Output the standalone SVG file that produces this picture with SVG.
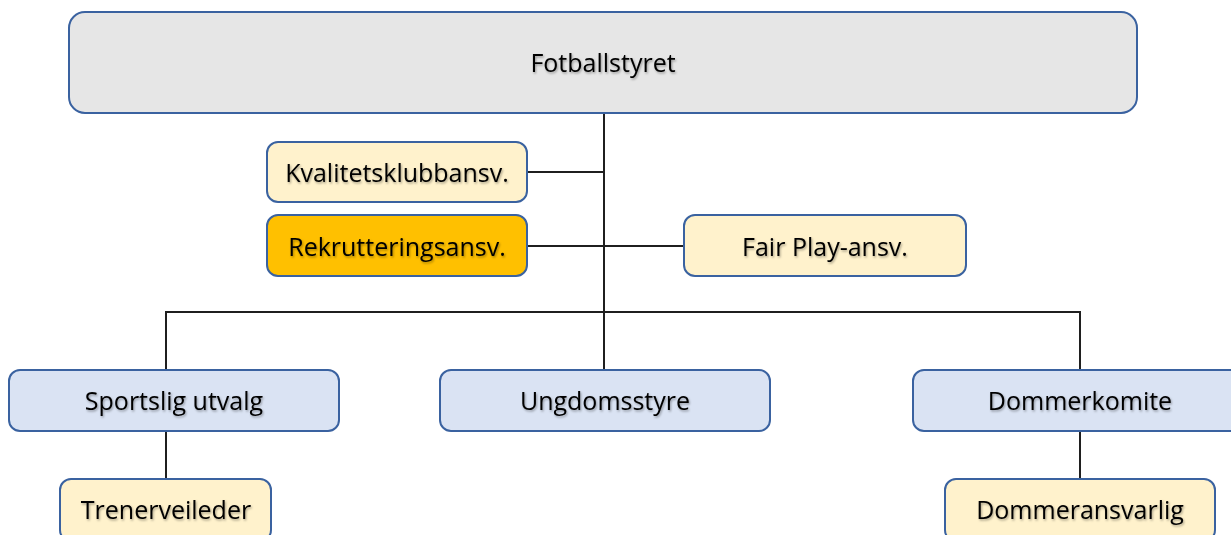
<svg xmlns="http://www.w3.org/2000/svg" width="1231" height="535" viewBox="0 0 1231 535">
  <defs>
    <filter id="ts" x="-10%" y="-30%" width="120%" height="160%">
      <feDropShadow dx="1" dy="1.5" stdDeviation="0.8" flood-color="#000" flood-opacity="0.35"/>
    </filter>
  </defs>
  <style>
    .box { stroke: #3a62a0; stroke-width: 2; }
    .gray { fill: #e6e6e6; }
    .cream { fill: #fff2cc; }
    .gold { fill: #ffc000; }
    .blue { fill: #dae3f3; }
    .lbl { font-family: "Open Sans", "Liberation Sans", sans-serif; font-size: 25px; fill: #000; text-anchor: middle; filter: url(#ts); }
    .conn { stroke: #1f1f1f; stroke-width: 2; fill: none; }
  </style>
  <rect width="1231" height="535" fill="#ffffff"/>
  <g id="connectors">
    <line class="conn" x1="604" y1="113" x2="604" y2="370"/>
    <line class="conn" x1="527" y1="172" x2="604" y2="172"/>
    <line class="conn" x1="527" y1="246" x2="684" y2="246"/>
    <polyline class="conn" points="166,370 166,312 1080,312 1080,370"/>
    <line class="conn" x1="166" y1="431" x2="166" y2="479"/>
    <line class="conn" x1="1080" y1="431" x2="1080" y2="479"/>
  </g>
  <g id="fotballstyret">
    <rect class="box gray" x="69" y="12" width="1068" height="101" rx="16"/>
    <text class="lbl" x="603" y="72">Fotballstyret</text>
  </g>
  <g id="kvalitetsklubbansv">
    <rect class="box cream" x="267" y="142" width="260" height="60" rx="11"/>
    <text class="lbl" x="397" y="182">Kvalitetsklubbansv.</text>
  </g>
  <g id="rekrutteringsansv">
    <rect class="box gold" x="267" y="215" width="260" height="61" rx="11"/>
    <text class="lbl" x="397" y="256">Rekrutteringsansv.</text>
  </g>
  <g id="fairplay">
    <rect class="box cream" x="684" y="215" width="282" height="61" rx="11"/>
    <text class="lbl" x="825" y="256">Fair Play-ansv.</text>
  </g>
  <g id="sportslig">
    <rect class="box blue" x="9" y="370" width="330" height="61" rx="11"/>
    <text class="lbl" x="174" y="410">Sportslig utvalg</text>
  </g>
  <g id="ungdomsstyre">
    <rect class="box blue" x="440" y="370" width="330" height="61" rx="11"/>
    <text class="lbl" x="605" y="410">Ungdomsstyre</text>
  </g>
  <g id="dommerkomite">
    <rect class="box blue" x="913" y="370" width="334" height="61" rx="11"/>
    <text class="lbl" x="1080" y="410">Dommerkomite</text>
  </g>
  <g id="trenerveileder">
    <rect class="box cream" x="60" y="479" width="211" height="62" rx="11"/>
    <text class="lbl" x="166" y="519">Trenerveileder</text>
  </g>
  <g id="dommeransvarlig">
    <rect class="box cream" x="945" y="479" width="270" height="62" rx="11"/>
    <text class="lbl" x="1080" y="519">Dommeransvarlig</text>
  </g>
</svg>
